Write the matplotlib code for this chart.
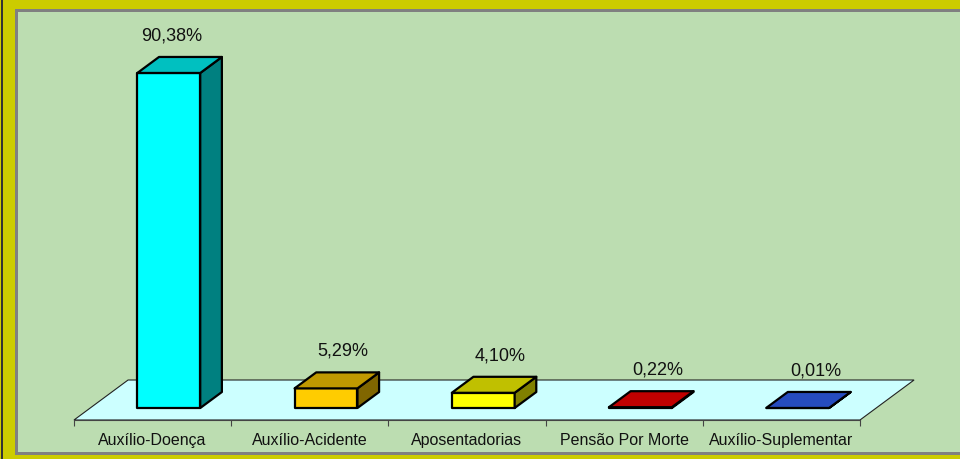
import matplotlib
matplotlib.use('Agg')
import matplotlib.pyplot as plt
from matplotlib.patches import Polygon, Rectangle

# Data
categorias = ['Auxílio-Doença', 'Auxílio-Acidente', 'Aposentadorias',
              'Pensão Por Morte', 'Auxílio-Suplementar']
percentuais = [90.38, 5.29, 4.10, 0.22, 0.01]

# cores: frente, topo, lado
cor_frente = ['#00FFFF', '#FFCC00', '#FFFF00', '#FF0000', '#3366FF']
cor_topo = ['#00C0C0', '#C09900', '#C0C000', '#C00000', '#264CBF']
cor_lado = ['#008080', '#806600', '#808000', '#800000', '#1A3380']

plt.rcParams['font.family'] = ['Liberation Sans', 'DejaVu Sans']

W, H = 960, 460
fig = plt.figure(figsize=(W / 100, H / 100), dpi=100)
fig.patch.set_facecolor('#CCCC00')

# moldura cinza + fundo verde
fig.add_artist(Rectangle((15 / W, 4 / H), (W - 15) / W, 446 / H, zorder=-10,
                         transform=fig.transFigure, facecolor='#808080', edgecolor='none'))
fig.add_artist(Rectangle((18 / W, 7 / H), (W - 18) / W, 440 / H, zorder=-9,
                         transform=fig.transFigure, facecolor='#BCDDB1', edgecolor='none'))
fig.add_artist(Rectangle((1 / W, 0), 1.5 / W, 1, zorder=-9,
                         transform=fig.transFigure, facecolor='#333333', edgecolor='none'))

px_por_pct = 3.707
ax = fig.add_axes([74 / W, 39 / H, 786 / W, 408 / H])
ax.set_xlim(0, len(categorias))
ax.set_ylim(0, 408 / px_por_pct)
ax.patch.set_visible(False)

# profundidade (oblíqua) em unidades de dados
DX = 54 / 157
DY = 40 / px_por_pct


def proj(x, v, d):
    return (x + d * DX, v + d * DY)


# piso
piso = [proj(0, 0, 0), proj(len(categorias), 0, 0),
        proj(len(categorias), 0, 1), proj(0, 0, 1)]
ax.add_patch(Polygon(piso, closed=True, facecolor='#CCFFFF', edgecolor='#222222',
                     linewidth=0.8, clip_on=False, zorder=1))

largura = 0.4
d0, d1 = 0.3, 0.7
for i, v in enumerate(percentuais):
    x0 = i + 0.5 - largura / 2
    x1 = i + 0.5 + largura / 2
    frente = [proj(x0, 0, d0), proj(x1, 0, d0), proj(x1, v, d0), proj(x0, v, d0)]
    topo = [proj(x0, v, d0), proj(x1, v, d0), proj(x1, v, d1), proj(x0, v, d1)]
    lado = [proj(x1, 0, d0), proj(x1, v, d0), proj(x1, v, d1), proj(x1, 0, d1)]
    for pts, cor in [(frente, cor_frente[i]), (lado, cor_lado[i]), (topo, cor_topo[i])]:
        ax.add_patch(Polygon(pts, closed=True, facecolor=cor, edgecolor='black',
                             linewidth=1.6, joinstyle='round', clip_on=False, zorder=3))
    texto = '{:.2f}%'.format(v).replace('.', ',')
    ax.text(i + 0.5 + (34 - 0.16 * v) / 157, v + 50 / px_por_pct, texto,
            ha='center', va='center', fontsize=13, color='#111111', zorder=4)

# eixo x
for s in ['top', 'right', 'left']:
    ax.spines[s].set_visible(False)
ax.spines['bottom'].set_color('#444444')
ax.spines['bottom'].set_linewidth(0.8)
ax.spines['bottom'].set_zorder(2)
ax.set_yticks([])
ax.set_xticks(range(len(categorias) + 1))
ax.set_xticklabels([])
ax.tick_params(axis='x', which='major', length=4.5, width=0.8, color='#444444', direction='out')
ax.set_xticks([i + 0.5 for i in range(len(categorias))], minor=True)
ax.set_xticklabels(categorias, minor=True, fontsize=11.5, color='#111111')
ax.tick_params(axis='x', which='minor', length=0, pad=9)

fig.savefig('out.png', dpi=100, facecolor=fig.get_facecolor())
